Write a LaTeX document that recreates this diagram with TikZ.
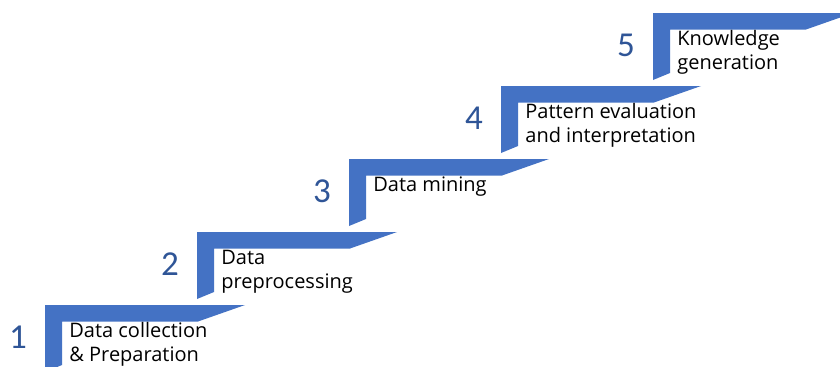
\documentclass[tikz,border=0pt]{standalone}
\usepackage{fontspec}
\setmainfont{Open Sans}
\newfontfamily\numfont{Carlito}
\definecolor{stairblue}{HTML}{4472C4}
\definecolor{numblue}{HTML}{2F5597}

\begin{document}
\begin{tikzpicture}[
  x=0.5pt,
  y=-0.5pt,
  stair/.style={
    fill=stairblue,
    draw=none
  },
  stair number/.style={
    numblue,
    anchor=base,
    inner sep=0pt,
    font=\numfont\fontsize{17.5}{20}\selectfont
  },
  stair label/.style={
    anchor=base west,
    align=left,
    inner sep=0pt,
    font=\fontsize{10}{12}\selectfont
  },
]
\fill[white] (0,0) rectangle (840,366);
\clip (0,0) rectangle (840,366);
% step number / lines of text / label
\foreach \n/\lines/\txt [count=\i from 0] in {
    1/2/{Data collection\\\& Preparation},
    2/2/{Data\\preprocessing},
    3/1/{Data mining},
    4/2/{Pattern evaluation\\and interpretation},
    5/2/{Knowledge\\generation}%
  }{
  \begin{scope}[shift={(45+152*\i,305-73*\i)}]
    \fill[stair] (0,0) coordinate (corner\n)
      -- (200,0) -- (153,16.5) -- (17,16.5) -- (17,60) -- (0,67) -- cycle;
    \node[stair number] (num\n) at (-27,43) {\n};
    \node[stair label] (label\n) at (24,32+24*\lines-24) {\txt};
  \end{scope}
}
\end{tikzpicture}
\end{document}
